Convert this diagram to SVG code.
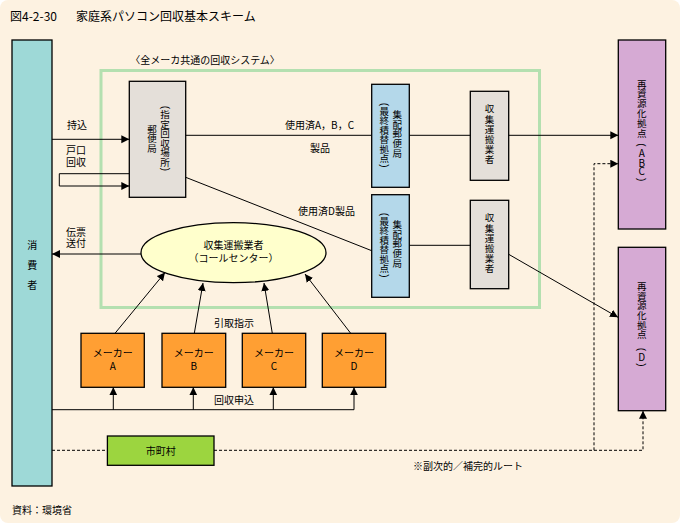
<svg xmlns="http://www.w3.org/2000/svg" width="680" height="523" viewBox="0 0 680 523">
<defs>
<marker id="ah" markerUnits="userSpaceOnUse" markerWidth="9" markerHeight="9" refX="8" refY="4" orient="auto">
<path d="M0,0 L8,4 L0,8 z" fill="#000"/>
</marker>
</defs>
<style>
text{font-family:"Noto Sans CJK JP","Liberation Sans",sans-serif;font-size:10px;fill:#000}
.t{font-size:12px}
.m{text-anchor:middle}
.v{text-anchor:middle;font-size:9.5px}
.p{font-family:"Liberation Sans",sans-serif;font-size:10px;text-anchor:middle;dominant-baseline:central}
.box{stroke:#000;stroke-width:1.3}
.ln{stroke:#000;stroke-width:1;fill:none}
.dl{stroke:#000;stroke-width:1;fill:none;stroke-dasharray:3,2}
</style>
<rect x="0" y="0" width="680" height="523" fill="#ffffff"/>
<rect x="0" y="0" width="680" height="523" rx="8" fill="#FDF2E1"/>
<text class="t" y="21"><tspan x="10">図4-2-30</tspan><tspan x="76">家庭系パソコン回収基本スキーム</tspan></text>
<text x="205" y="64" class="m">〈全メーカ共通の回収システム〉</text>
<rect x="101" y="70.5" width="438.5" height="237" fill="none" stroke="#B4E0B0" stroke-width="3"/>

<g id="consumer">
<rect class="box" x="12" y="40" width="40" height="446" fill="#9ED9D7"/>
<text class="m" x="32.3" y="249">消</text>
<text class="m" x="32.3" y="269">費</text>
<text class="m" x="32.3" y="289">者</text>
</g>

<g id="post-office">
<rect class="box" x="129.3" y="81.3" width="56.4" height="116" fill="#E4DFD9"/>
<text class="p" x="165" y="107.5" transform="rotate(90 165 107.5)">(</text>
<text class="v"><tspan x="165" y="118">指</tspan><tspan x="165" y="127.5">定</tspan><tspan x="165" y="137">回</tspan><tspan x="165" y="146.5">収</tspan><tspan x="165" y="156">場</tspan><tspan x="165" y="165.5">所</tspan></text>
<text class="p" x="165" y="169.5" transform="rotate(90 165 169.5)">)</text>
<text class="v"><tspan x="152" y="133">郵</tspan><tspan x="152" y="142.3">便</tspan><tspan x="152" y="151.6">局</tspan></text>
</g>

<g id="hub1">
<rect class="box" x="371.7" y="84.3" width="37.6" height="103" fill="#B4D8EA"/>
<text class="v"><tspan x="397.3" y="118.1">集</tspan><tspan x="397.3" y="127.7">配</tspan><tspan x="397.3" y="137.3">郵</tspan><tspan x="397.3" y="146.9">便</tspan><tspan x="397.3" y="156.5">局</tspan></text>
<text class="p" x="384.3" y="104.5" transform="rotate(90 384.3 104.5)">(</text>
<text class="v"><tspan x="384.3" y="115">最</tspan><tspan x="384.3" y="124.4">終</tspan><tspan x="384.3" y="133.8">積</tspan><tspan x="384.3" y="143.2">替</tspan><tspan x="384.3" y="152.6">拠</tspan><tspan x="384.3" y="162">点</tspan></text>
<text class="p" x="384.3" y="166" transform="rotate(90 384.3 166)">)</text>
</g>
<g id="hub2">
<rect class="box" x="371.7" y="194.7" width="37.6" height="102.6" fill="#B4D8EA"/>
<text class="v"><tspan x="397.3" y="228.1">集</tspan><tspan x="397.3" y="237.7">配</tspan><tspan x="397.3" y="247.3">郵</tspan><tspan x="397.3" y="256.9">便</tspan><tspan x="397.3" y="266.5">局</tspan></text>
<text class="p" x="384.3" y="214.5" transform="rotate(90 384.3 214.5)">(</text>
<text class="v"><tspan x="384.3" y="225">最</tspan><tspan x="384.3" y="234.4">終</tspan><tspan x="384.3" y="243.8">積</tspan><tspan x="384.3" y="253.2">替</tspan><tspan x="384.3" y="262.6">拠</tspan><tspan x="384.3" y="272">点</tspan></text>
<text class="p" x="384.3" y="276" transform="rotate(90 384.3 276)">)</text>
</g>

<g id="carrier1">
<rect class="box" x="470.3" y="91.3" width="38.4" height="89" fill="#E4DFD9"/>
<text class="v"><tspan x="489.5" y="112.4">収</tspan><tspan x="489.5" y="122.5">集</tspan><tspan x="489.5" y="132.7">運</tspan><tspan x="489.5" y="142.9">搬</tspan><tspan x="489.5" y="153.1">業</tspan><tspan x="489.5" y="163.2">者</tspan></text>
</g>
<g id="carrier2">
<rect class="box" x="470.3" y="200.3" width="38.4" height="88.4" fill="#E4DFD9"/>
<text class="v"><tspan x="489.5" y="221.4">収</tspan><tspan x="489.5" y="231.5">集</tspan><tspan x="489.5" y="241.7">運</tspan><tspan x="489.5" y="251.9">搬</tspan><tspan x="489.5" y="262.1">業</tspan><tspan x="489.5" y="272.2">者</tspan></text>
</g>

<g id="recycle-abc">
<rect class="box" x="618.3" y="40" width="47.4" height="189" fill="#D6AAD4"/>
<text class="v"><tspan x="641.7" y="87.5">再</tspan><tspan x="641.7" y="97.3">資</tspan><tspan x="641.7" y="107.2">源</tspan><tspan x="641.7" y="117">化</tspan><tspan x="641.7" y="126.8">拠</tspan><tspan x="641.7" y="136.7">点</tspan></text>
<text class="p" x="641.7" y="145" transform="rotate(90 641.7 145)">(</text>
<text class="m"><tspan x="641.7" y="156.9">A</tspan><tspan x="641.7" y="166.9">B</tspan><tspan x="641.7" y="175.3">C</tspan></text>
<text class="p" x="641.7" y="179.8" transform="rotate(90 641.7 179.8)">)</text>
</g>
<g id="recycle-d">
<rect class="box" x="618.3" y="247.3" width="47.4" height="163.4" fill="#D6AAD4"/>
<text class="v"><tspan x="641.7" y="289.8">再</tspan><tspan x="641.7" y="299.5">資</tspan><tspan x="641.7" y="309.2">源</tspan><tspan x="641.7" y="318.9">化</tspan><tspan x="641.7" y="328.6">拠</tspan><tspan x="641.7" y="338.3">点</tspan></text>
<text class="p" x="641.7" y="349.5" transform="rotate(90 641.7 349.5)">(</text>
<text class="m" x="641.7" y="360.9">D</text>
<text class="p" x="641.7" y="365" transform="rotate(90 641.7 365)">)</text>
</g>

<g id="callcenter">
<ellipse class="box" cx="233.5" cy="252.7" rx="92.5" ry="30" fill="#FFFFCC"/>
<text class="m" x="233.5" y="248.5">収集運搬業者</text>
<text class="m" x="233.5" y="262">（コールセンター）</text>
</g>

<g id="maker-a">
<rect class="box" x="81" y="333.3" width="63.3" height="54" fill="#FF9F33"/>
<text class="m" x="112.7" y="357">メーカー</text>
<text class="m" x="112.7" y="369.5">A</text>
</g>
<g id="maker-b">
<rect class="box" x="162" y="333.3" width="63.7" height="54" fill="#FF9F33"/>
<text class="m" x="193.8" y="357">メーカー</text>
<text class="m" x="193.8" y="369.5">B</text>
</g>
<g id="maker-c">
<rect class="box" x="242.3" y="333.3" width="63.4" height="54" fill="#FF9F33"/>
<text class="m" x="274" y="357">メーカー</text>
<text class="m" x="274" y="369.5">C</text>
</g>
<g id="maker-d">
<rect class="box" x="322.3" y="333.3" width="63.4" height="54" fill="#FF9F33"/>
<text class="m" x="354" y="357">メーカー</text>
<text class="m" x="354" y="369.5">D</text>
</g>

<g id="municipality">
<rect class="box" x="107.4" y="436" width="106.6" height="29.3" fill="#9CD53F"/>
<text class="m" x="160.7" y="454.5">市町村</text>
</g>

<g id="connectors">
<line class="ln" x1="52" y1="139.3" x2="129.3" y2="139.3" marker-end="url(#ah)"/>
<polyline class="ln" points="129.3,173.7 59.3,173.7 59.3,186 129.3,186" marker-end="url(#ah)"/>
<line class="ln" x1="141" y1="254" x2="52" y2="254" marker-end="url(#ah)"/>
<line class="ln" x1="185.7" y1="135.3" x2="371.7" y2="135.3"/>
<line class="ln" x1="409.3" y1="135.3" x2="470.3" y2="135.3"/>
<line class="ln" x1="508.7" y1="135.3" x2="618.3" y2="135.3" marker-end="url(#ah)"/>
<line class="ln" x1="185.7" y1="177.3" x2="371.7" y2="250.7"/>
<line class="ln" x1="409.3" y1="245.3" x2="470.3" y2="245.3"/>
<line class="ln" x1="508.7" y1="254.3" x2="618" y2="317.3" marker-end="url(#ah)"/>
<line class="ln" x1="115" y1="333.3" x2="165" y2="272.5" marker-end="url(#ah)"/>
<line class="ln" x1="194.3" y1="333.3" x2="203" y2="283" marker-end="url(#ah)"/>
<line class="ln" x1="272.3" y1="333.3" x2="264" y2="283" marker-end="url(#ah)"/>
<line class="ln" x1="350.7" y1="333.3" x2="305" y2="274" marker-end="url(#ah)"/>
<polyline class="ln" points="52,409.7 354,409.7"/>
<line class="ln" x1="113.3" y1="409.7" x2="113.3" y2="387.3" marker-end="url(#ah)"/>
<line class="ln" x1="193.3" y1="409.7" x2="193.3" y2="387.3" marker-end="url(#ah)"/>
<line class="ln" x1="273.3" y1="409.7" x2="273.3" y2="387.3" marker-end="url(#ah)"/>
<line class="ln" x1="354" y1="409.7" x2="354" y2="387.3" marker-end="url(#ah)"/>
<line class="dl" x1="52" y1="450.3" x2="107.4" y2="450.3"/>
<polyline class="dl" points="214,450.3 643,450.3 643,410.7" marker-end="url(#ah)"/>
<polyline class="dl" points="594,450.3 594,163.7 618.3,163.7" marker-end="url(#ah)"/>
</g>

<text x="67" y="129">持込</text>
<text x="66" y="153.5">戸口</text>
<text x="66" y="166">回収</text>
<text x="66" y="236">伝票</text>
<text x="66" y="247">送付</text>
<text x="285" y="129">使用済A，B，C</text>
<text x="310" y="152">製品</text>
<text x="298" y="215">使用済D製品</text>
<text class="m" x="234" y="327">引取指示</text>
<text class="m" x="234" y="404">回収申込</text>
<text x="413" y="470">※副次的／補完的ルート</text>
<text x="12" y="514">資料：環境省</text>
</svg>
